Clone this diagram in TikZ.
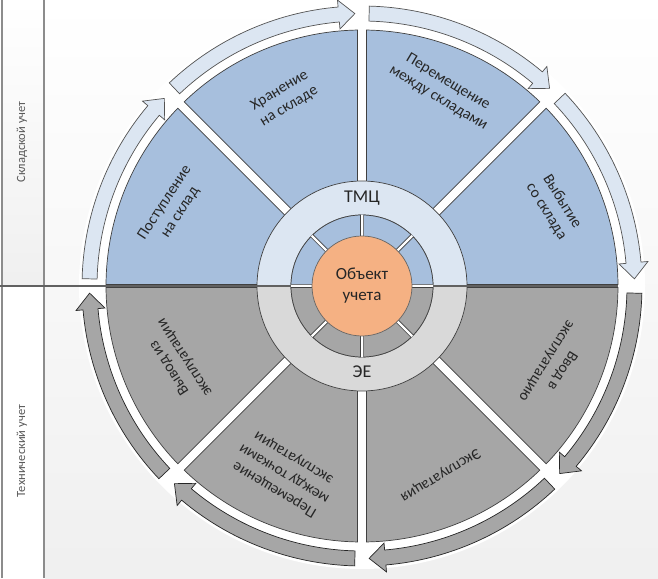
\documentclass[tikz,border=0pt]{standalone}
\usepackage{fontspec}
\setmainfont{Carlito}
\definecolor{secblue}{HTML}{A7BFDD}
\definecolor{ringblue}{HTML}{DCE6F2}
\definecolor{secgray}{HTML}{A6A6A6}
\definecolor{ringgray}{HTML}{D9D9D9}
\definecolor{orng}{HTML}{F5B183}
\definecolor{edgec}{HTML}{404040}
\definecolor{txtc}{HTML}{262626}
\definecolor{striptxt}{HTML}{595959}
\definecolor{stripline}{HTML}{8C8C8C}
\newcommand{\mysector}[7]{%
 \path[#7] ({#1+asin(#3/#6)}:#6) arc[start angle={#1+asin(#3/#6)}, end angle={#2-asin(#4/#6)}, radius=#6]
   -- ({#2-asin(#4/#5)}:#5) arc[start angle={#2-asin(#4/#5)}, end angle={#1+asin(#3/#5)}, radius=#5] -- cycle;}
\newcommand{\myarrow}[3]{%
 \path[#3] (#1:265) -- (#1:280) arc[start angle=#1, end angle={#2+3.4}, radius=280]
   -- ({#2+3.4}:287) -- (#2:272.5) -- ({#2+3.4}:258) -- ({#2+3.4}:265)
   arc[start angle={#2+3.4}, end angle=#1, radius=265] -- cycle;}
\tikzset{
  bsec/.style={fill=secblue, draw=edgec, line width=0.7pt},
  gsec/.style={fill=secgray, draw=edgec, line width=0.7pt},
  barrow/.style={fill=ringblue, draw=edgec!90, line width=0.7pt},
  garrow/.style={fill=secgray, draw=black!85, line width=0.7pt},
  seclbl/.style={align=center, text=txtc, font=\fontsize{15.5}{18.5}\selectfont, inner sep=0pt},
  striplbl/.style={text=striptxt, font=\fontsize{12.5}{15}\selectfont, rotate=90, inner sep=0pt},
  ringlbl/.style={text=txtc, font=\fontsize{18}{20}\selectfont, inner sep=0pt}
}
\begin{document}
\begin{tikzpicture}[x=1pt,y=1pt]
\useasboundingbox (0,0) rectangle (658,578);
% background
\shade[top color=white, bottom color=black!6] (45,0) rectangle (658,578);
\shade[top color=white, bottom color=black!6] (2,292) rectangle (44,578);
\fill[white] (2,0) rectangle (44,292);
\draw[stripline, line width=1.6pt] (2,0) -- (2,578);
\draw[stripline, line width=1.6pt] (44,0) -- (44,578);
\node[striplbl] (sklad) at (22,436) {Складской учет};
\node[striplbl] (tech) at (22,127) {Технический учет};
\begin{scope}[shift={(362,292)}]
  \fill[white] (0,0) circle[radius=283];
  % arrows
  \myarrow{178.5}{136.5}{barrow}
  \myarrow{133.5}{91.5}{barrow}
  \myarrow{88.5}{46.5}{barrow}
  \myarrow{43.5}{1.5}{barrow}
  \myarrow{358.5}{316.5}{garrow}
  \myarrow{313.5}{271.5}{garrow}
  \myarrow{268.5}{226.5}{garrow}
  \myarrow{223.5}{181.5}{garrow}
  % outer sectors
  \mysector{0}{45}{1.5}{4.5}{98}{256}{bsec}
  \mysector{45}{90}{4.5}{4.5}{98}{256}{bsec}
  \mysector{90}{135}{4.5}{4.5}{98}{256}{bsec}
  \mysector{135}{180}{4.5}{1.5}{98}{256}{bsec}
  \mysector{180}{225}{1.5}{4.5}{98}{256}{gsec}
  \mysector{225}{270}{4.5}{4.5}{98}{256}{gsec}
  \mysector{270}{315}{4.5}{4.5}{98}{256}{gsec}
  \mysector{315}{360}{4.5}{1.5}{98}{256}{gsec}
  % light ring
  \path[fill=ringblue, draw=edgec, line width=0.7pt] (0:105) arc[start angle=0, end angle=180, radius=105]
     -- (180:71) arc[start angle=180, end angle=0, radius=71] -- cycle;
  \path[fill=ringgray, draw=edgec, line width=0.7pt] (180:105) arc[start angle=180, end angle=360, radius=105]
     -- (0:71) arc[start angle=360, end angle=180, radius=71] -- cycle;
\end{scope}
% dividing line
\draw[black!62, line width=1.3pt] (0,292) -- (618,292);
\begin{scope}[shift={(362,292)}]
  \fill[white] (0,0) circle[radius=71];
  \mysector{0}{45}{1.6}{1.6}{49}{71}{bsec}
  \mysector{45}{90}{1.6}{1.6}{49}{71}{bsec}
  \mysector{90}{135}{1.6}{1.6}{49}{71}{bsec}
  \mysector{135}{180}{1.6}{1.6}{49}{71}{bsec}
  \mysector{180}{225}{1.6}{1.6}{49}{71}{gsec}
  \mysector{225}{270}{1.6}{1.6}{49}{71}{gsec}
  \mysector{270}{315}{1.6}{1.6}{49}{71}{gsec}
  \mysector{315}{360}{1.6}{1.6}{49}{71}{gsec}
  \node[circle, fill=orng, draw=edgec!80, line width=0.7pt, minimum size=100pt, inner sep=0pt,
        align=center, text=txtc, font=\fontsize{17}{21}\selectfont] (obj) at (0,0) {Объект\\учета};
  \node[ringlbl] (tmc) at (90:88) {ТМЦ};
  \node[ringlbl] (ee) at (270:86) {ЭЕ};
  % sector labels
  \node[seclbl, rotate=57] (s1) at (157.5:205) {Поступление\\на склад};
  \node[seclbl, rotate=31] (s2) at (112.5:203) {Хранение\\на складе};
  \node[seclbl, rotate=-31] (s3) at (67.5:212) {Перемещение\\между складами};
  \node[seclbl, rotate=-58] (s4) at (22.5:208) {Выбытие\\со склада};
  \node[seclbl, rotate=123] (s5) at (202.5:200) {Вывод из\\эксплуатации};
  \node[seclbl, rotate=149] (s6) at (247.5:203) {Перемещение\\между точками\\эксплуатации};
  \node[seclbl, rotate=211] (s7) at (292.5:205) {Эксплуатация};
  \node[seclbl, rotate=238] (s8) at (337.5:208) {Ввод в\\эксплуатацию};
\end{scope}
\end{tikzpicture}
\end{document}
